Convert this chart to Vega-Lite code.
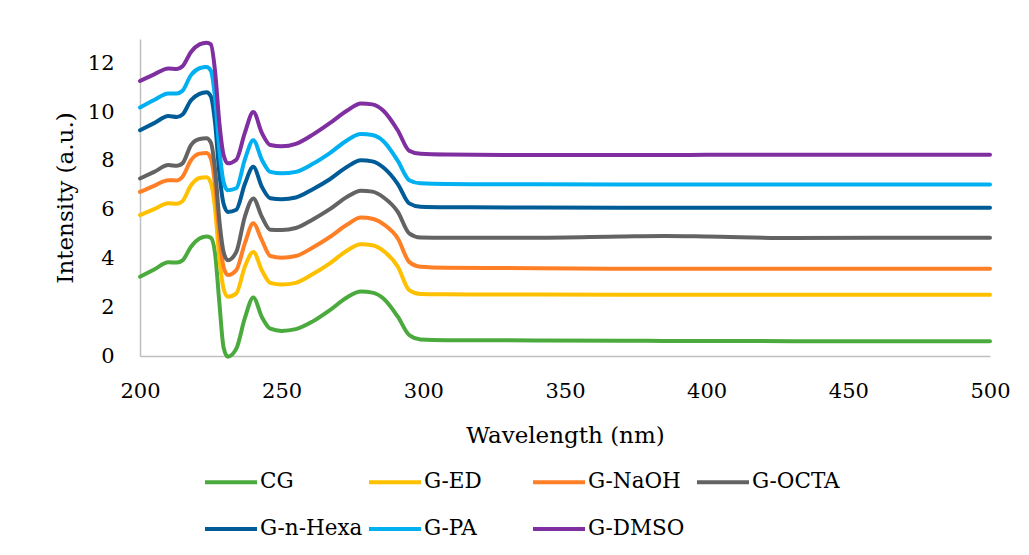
{
  "$schema": "https://vega.github.io/schema/vega-lite/v6.json",
  "width": 850,
  "height": 317,
  "autosize": "none",
  "padding": {"left": 140, "top": 39, "right": 39, "bottom": 199},
  "background": "white",
  "config": {"view": {"stroke": null}, "font": "DejaVu Serif"},
  "data": {"values": [
    {"sample": "CG", "wavelength": 200, "intensity": 3.25},
    {"sample": "CG", "wavelength": 205, "intensity": 3.55},
    {"sample": "CG", "wavelength": 210, "intensity": 3.84},
    {"sample": "CG", "wavelength": 213, "intensity": 3.83},
    {"sample": "CG", "wavelength": 215, "intensity": 3.92},
    {"sample": "CG", "wavelength": 218, "intensity": 4.48},
    {"sample": "CG", "wavelength": 221, "intensity": 4.82},
    {"sample": "CG", "wavelength": 223.5, "intensity": 4.9},
    {"sample": "CG", "wavelength": 225, "intensity": 4.85},
    {"sample": "CG", "wavelength": 226.5, "intensity": 4.2},
    {"sample": "CG", "wavelength": 228, "intensity": 2.2},
    {"sample": "CG", "wavelength": 229.5, "intensity": 0.35},
    {"sample": "CG", "wavelength": 231, "intensity": -0.03},
    {"sample": "CG", "wavelength": 234, "intensity": 0.3},
    {"sample": "CG", "wavelength": 237, "intensity": 1.55},
    {"sample": "CG", "wavelength": 240, "intensity": 2.4},
    {"sample": "CG", "wavelength": 243, "intensity": 1.6},
    {"sample": "CG", "wavelength": 246, "intensity": 1.12},
    {"sample": "CG", "wavelength": 250, "intensity": 1.03},
    {"sample": "CG", "wavelength": 255, "intensity": 1.1},
    {"sample": "CG", "wavelength": 261, "intensity": 1.42},
    {"sample": "CG", "wavelength": 267, "intensity": 1.88},
    {"sample": "CG", "wavelength": 273, "intensity": 2.4},
    {"sample": "CG", "wavelength": 278, "intensity": 2.64},
    {"sample": "CG", "wavelength": 282, "intensity": 2.6},
    {"sample": "CG", "wavelength": 286, "intensity": 2.35},
    {"sample": "CG", "wavelength": 291, "intensity": 1.61},
    {"sample": "CG", "wavelength": 295, "intensity": 0.86},
    {"sample": "CG", "wavelength": 299, "intensity": 0.68},
    {"sample": "CG", "wavelength": 308, "intensity": 0.65},
    {"sample": "CG", "wavelength": 340, "intensity": 0.64},
    {"sample": "CG", "wavelength": 370, "intensity": 0.63},
    {"sample": "CG", "wavelength": 385, "intensity": 0.62},
    {"sample": "CG", "wavelength": 400, "intensity": 0.62},
    {"sample": "CG", "wavelength": 430, "intensity": 0.61},
    {"sample": "CG", "wavelength": 460, "intensity": 0.6},
    {"sample": "CG", "wavelength": 500, "intensity": 0.6},

    {"sample": "G-ED", "wavelength": 200, "intensity": 5.78},
    {"sample": "G-ED", "wavelength": 205, "intensity": 6.02},
    {"sample": "G-ED", "wavelength": 210, "intensity": 6.26},
    {"sample": "G-ED", "wavelength": 213, "intensity": 6.24},
    {"sample": "G-ED", "wavelength": 215, "intensity": 6.35},
    {"sample": "G-ED", "wavelength": 218, "intensity": 7.0},
    {"sample": "G-ED", "wavelength": 221, "intensity": 7.3},
    {"sample": "G-ED", "wavelength": 223.5, "intensity": 7.33},
    {"sample": "G-ED", "wavelength": 225, "intensity": 7.1},
    {"sample": "G-ED", "wavelength": 226.5, "intensity": 6.03},
    {"sample": "G-ED", "wavelength": 228, "intensity": 4.02},
    {"sample": "G-ED", "wavelength": 229.5, "intensity": 2.76},
    {"sample": "G-ED", "wavelength": 231, "intensity": 2.43},
    {"sample": "G-ED", "wavelength": 234, "intensity": 2.57},
    {"sample": "G-ED", "wavelength": 237, "intensity": 3.66},
    {"sample": "G-ED", "wavelength": 240, "intensity": 4.27},
    {"sample": "G-ED", "wavelength": 243, "intensity": 3.52},
    {"sample": "G-ED", "wavelength": 246, "intensity": 3.0},
    {"sample": "G-ED", "wavelength": 250, "intensity": 2.93},
    {"sample": "G-ED", "wavelength": 255, "intensity": 3.0},
    {"sample": "G-ED", "wavelength": 261, "intensity": 3.36},
    {"sample": "G-ED", "wavelength": 267, "intensity": 3.8},
    {"sample": "G-ED", "wavelength": 273, "intensity": 4.32},
    {"sample": "G-ED", "wavelength": 278, "intensity": 4.58},
    {"sample": "G-ED", "wavelength": 282, "intensity": 4.54},
    {"sample": "G-ED", "wavelength": 286, "intensity": 4.3},
    {"sample": "G-ED", "wavelength": 291, "intensity": 3.66},
    {"sample": "G-ED", "wavelength": 295, "intensity": 2.7},
    {"sample": "G-ED", "wavelength": 299, "intensity": 2.54},
    {"sample": "G-ED", "wavelength": 308, "intensity": 2.53},
    {"sample": "G-ED", "wavelength": 340, "intensity": 2.52},
    {"sample": "G-ED", "wavelength": 370, "intensity": 2.51},
    {"sample": "G-ED", "wavelength": 385, "intensity": 2.51},
    {"sample": "G-ED", "wavelength": 400, "intensity": 2.51},
    {"sample": "G-ED", "wavelength": 430, "intensity": 2.51},
    {"sample": "G-ED", "wavelength": 460, "intensity": 2.51},
    {"sample": "G-ED", "wavelength": 500, "intensity": 2.51},

    {"sample": "G-NaOH", "wavelength": 200, "intensity": 6.73},
    {"sample": "G-NaOH", "wavelength": 205, "intensity": 6.98},
    {"sample": "G-NaOH", "wavelength": 210, "intensity": 7.21},
    {"sample": "G-NaOH", "wavelength": 213, "intensity": 7.2},
    {"sample": "G-NaOH", "wavelength": 215, "intensity": 7.35},
    {"sample": "G-NaOH", "wavelength": 218, "intensity": 8.03},
    {"sample": "G-NaOH", "wavelength": 221, "intensity": 8.3},
    {"sample": "G-NaOH", "wavelength": 223.5, "intensity": 8.33},
    {"sample": "G-NaOH", "wavelength": 225, "intensity": 8.1},
    {"sample": "G-NaOH", "wavelength": 226.5, "intensity": 7.0},
    {"sample": "G-NaOH", "wavelength": 228, "intensity": 4.95},
    {"sample": "G-NaOH", "wavelength": 229.5, "intensity": 3.65},
    {"sample": "G-NaOH", "wavelength": 231, "intensity": 3.32},
    {"sample": "G-NaOH", "wavelength": 234, "intensity": 3.52},
    {"sample": "G-NaOH", "wavelength": 237, "intensity": 4.62},
    {"sample": "G-NaOH", "wavelength": 240, "intensity": 5.44},
    {"sample": "G-NaOH", "wavelength": 243, "intensity": 4.75},
    {"sample": "G-NaOH", "wavelength": 246, "intensity": 4.1},
    {"sample": "G-NaOH", "wavelength": 250, "intensity": 4.03},
    {"sample": "G-NaOH", "wavelength": 255, "intensity": 4.1},
    {"sample": "G-NaOH", "wavelength": 261, "intensity": 4.45},
    {"sample": "G-NaOH", "wavelength": 267, "intensity": 4.88},
    {"sample": "G-NaOH", "wavelength": 273, "intensity": 5.38},
    {"sample": "G-NaOH", "wavelength": 278, "intensity": 5.68},
    {"sample": "G-NaOH", "wavelength": 282, "intensity": 5.63},
    {"sample": "G-NaOH", "wavelength": 286, "intensity": 5.4},
    {"sample": "G-NaOH", "wavelength": 291, "intensity": 4.82},
    {"sample": "G-NaOH", "wavelength": 295, "intensity": 3.86},
    {"sample": "G-NaOH", "wavelength": 299, "intensity": 3.66},
    {"sample": "G-NaOH", "wavelength": 308, "intensity": 3.62},
    {"sample": "G-NaOH", "wavelength": 340, "intensity": 3.6},
    {"sample": "G-NaOH", "wavelength": 370, "intensity": 3.58},
    {"sample": "G-NaOH", "wavelength": 385, "intensity": 3.58},
    {"sample": "G-NaOH", "wavelength": 400, "intensity": 3.58},
    {"sample": "G-NaOH", "wavelength": 430, "intensity": 3.58},
    {"sample": "G-NaOH", "wavelength": 460, "intensity": 3.58},
    {"sample": "G-NaOH", "wavelength": 500, "intensity": 3.58},

    {"sample": "G-OCTA", "wavelength": 200, "intensity": 7.28},
    {"sample": "G-OCTA", "wavelength": 205, "intensity": 7.55},
    {"sample": "G-OCTA", "wavelength": 210, "intensity": 7.83},
    {"sample": "G-OCTA", "wavelength": 213, "intensity": 7.8},
    {"sample": "G-OCTA", "wavelength": 215, "intensity": 7.9},
    {"sample": "G-OCTA", "wavelength": 218, "intensity": 8.65},
    {"sample": "G-OCTA", "wavelength": 221, "intensity": 8.9},
    {"sample": "G-OCTA", "wavelength": 223.5, "intensity": 8.93},
    {"sample": "G-OCTA", "wavelength": 225, "intensity": 8.75},
    {"sample": "G-OCTA", "wavelength": 226.5, "intensity": 7.64},
    {"sample": "G-OCTA", "wavelength": 228, "intensity": 5.57},
    {"sample": "G-OCTA", "wavelength": 229.5, "intensity": 4.27},
    {"sample": "G-OCTA", "wavelength": 231, "intensity": 3.93},
    {"sample": "G-OCTA", "wavelength": 234, "intensity": 4.27},
    {"sample": "G-OCTA", "wavelength": 237, "intensity": 5.71},
    {"sample": "G-OCTA", "wavelength": 240, "intensity": 6.46},
    {"sample": "G-OCTA", "wavelength": 243, "intensity": 5.71},
    {"sample": "G-OCTA", "wavelength": 246, "intensity": 5.18},
    {"sample": "G-OCTA", "wavelength": 250, "intensity": 5.17},
    {"sample": "G-OCTA", "wavelength": 255, "intensity": 5.25},
    {"sample": "G-OCTA", "wavelength": 261, "intensity": 5.6},
    {"sample": "G-OCTA", "wavelength": 267, "intensity": 6.02},
    {"sample": "G-OCTA", "wavelength": 273, "intensity": 6.52},
    {"sample": "G-OCTA", "wavelength": 278, "intensity": 6.78},
    {"sample": "G-OCTA", "wavelength": 282, "intensity": 6.74},
    {"sample": "G-OCTA", "wavelength": 286, "intensity": 6.5},
    {"sample": "G-OCTA", "wavelength": 291, "intensity": 5.91},
    {"sample": "G-OCTA", "wavelength": 295, "intensity": 5.03},
    {"sample": "G-OCTA", "wavelength": 299, "intensity": 4.86},
    {"sample": "G-OCTA", "wavelength": 308, "intensity": 4.85},
    {"sample": "G-OCTA", "wavelength": 340, "intensity": 4.85},
    {"sample": "G-OCTA", "wavelength": 370, "intensity": 4.9},
    {"sample": "G-OCTA", "wavelength": 385, "intensity": 4.92},
    {"sample": "G-OCTA", "wavelength": 400, "intensity": 4.9},
    {"sample": "G-OCTA", "wavelength": 430, "intensity": 4.84},
    {"sample": "G-OCTA", "wavelength": 460, "intensity": 4.85},
    {"sample": "G-OCTA", "wavelength": 500, "intensity": 4.85},

    {"sample": "G-n-Hexa", "wavelength": 200, "intensity": 9.26},
    {"sample": "G-n-Hexa", "wavelength": 205, "intensity": 9.55},
    {"sample": "G-n-Hexa", "wavelength": 210, "intensity": 9.84},
    {"sample": "G-n-Hexa", "wavelength": 213, "intensity": 9.8},
    {"sample": "G-n-Hexa", "wavelength": 215, "intensity": 9.9},
    {"sample": "G-n-Hexa", "wavelength": 218, "intensity": 10.49},
    {"sample": "G-n-Hexa", "wavelength": 221, "intensity": 10.75},
    {"sample": "G-n-Hexa", "wavelength": 223.5, "intensity": 10.82},
    {"sample": "G-n-Hexa", "wavelength": 225, "intensity": 10.65},
    {"sample": "G-n-Hexa", "wavelength": 226.5, "intensity": 9.56},
    {"sample": "G-n-Hexa", "wavelength": 228, "intensity": 7.52},
    {"sample": "G-n-Hexa", "wavelength": 229.5, "intensity": 6.24},
    {"sample": "G-n-Hexa", "wavelength": 231, "intensity": 5.91},
    {"sample": "G-n-Hexa", "wavelength": 234, "intensity": 6.0},
    {"sample": "G-n-Hexa", "wavelength": 237, "intensity": 7.05},
    {"sample": "G-n-Hexa", "wavelength": 240, "intensity": 7.76},
    {"sample": "G-n-Hexa", "wavelength": 243, "intensity": 6.94},
    {"sample": "G-n-Hexa", "wavelength": 246, "intensity": 6.47},
    {"sample": "G-n-Hexa", "wavelength": 250, "intensity": 6.43},
    {"sample": "G-n-Hexa", "wavelength": 255, "intensity": 6.5},
    {"sample": "G-n-Hexa", "wavelength": 261, "intensity": 6.84},
    {"sample": "G-n-Hexa", "wavelength": 267, "intensity": 7.25},
    {"sample": "G-n-Hexa", "wavelength": 273, "intensity": 7.75},
    {"sample": "G-n-Hexa", "wavelength": 278, "intensity": 8.03},
    {"sample": "G-n-Hexa", "wavelength": 282, "intensity": 7.98},
    {"sample": "G-n-Hexa", "wavelength": 286, "intensity": 7.72},
    {"sample": "G-n-Hexa", "wavelength": 291, "intensity": 7.05},
    {"sample": "G-n-Hexa", "wavelength": 295, "intensity": 6.26},
    {"sample": "G-n-Hexa", "wavelength": 299, "intensity": 6.12},
    {"sample": "G-n-Hexa", "wavelength": 308, "intensity": 6.1},
    {"sample": "G-n-Hexa", "wavelength": 340, "intensity": 6.09},
    {"sample": "G-n-Hexa", "wavelength": 370, "intensity": 6.08},
    {"sample": "G-n-Hexa", "wavelength": 385, "intensity": 6.08},
    {"sample": "G-n-Hexa", "wavelength": 400, "intensity": 6.08},
    {"sample": "G-n-Hexa", "wavelength": 430, "intensity": 6.08},
    {"sample": "G-n-Hexa", "wavelength": 460, "intensity": 6.08},
    {"sample": "G-n-Hexa", "wavelength": 500, "intensity": 6.08},

    {"sample": "G-PA", "wavelength": 200, "intensity": 10.19},
    {"sample": "G-PA", "wavelength": 205, "intensity": 10.5},
    {"sample": "G-PA", "wavelength": 210, "intensity": 10.77},
    {"sample": "G-PA", "wavelength": 213, "intensity": 10.77},
    {"sample": "G-PA", "wavelength": 215, "intensity": 10.88},
    {"sample": "G-PA", "wavelength": 218, "intensity": 11.52},
    {"sample": "G-PA", "wavelength": 221, "intensity": 11.8},
    {"sample": "G-PA", "wavelength": 223.5, "intensity": 11.85},
    {"sample": "G-PA", "wavelength": 225, "intensity": 11.7},
    {"sample": "G-PA", "wavelength": 226.5, "intensity": 10.57},
    {"sample": "G-PA", "wavelength": 228, "intensity": 8.47},
    {"sample": "G-PA", "wavelength": 229.5, "intensity": 7.14},
    {"sample": "G-PA", "wavelength": 231, "intensity": 6.8},
    {"sample": "G-PA", "wavelength": 234, "intensity": 6.88},
    {"sample": "G-PA", "wavelength": 237, "intensity": 8.05},
    {"sample": "G-PA", "wavelength": 240, "intensity": 8.85},
    {"sample": "G-PA", "wavelength": 243, "intensity": 8.05},
    {"sample": "G-PA", "wavelength": 246, "intensity": 7.55},
    {"sample": "G-PA", "wavelength": 250, "intensity": 7.49},
    {"sample": "G-PA", "wavelength": 255, "intensity": 7.55},
    {"sample": "G-PA", "wavelength": 261, "intensity": 7.88},
    {"sample": "G-PA", "wavelength": 267, "intensity": 8.32},
    {"sample": "G-PA", "wavelength": 273, "intensity": 8.84},
    {"sample": "G-PA", "wavelength": 278, "intensity": 9.1},
    {"sample": "G-PA", "wavelength": 282, "intensity": 9.06},
    {"sample": "G-PA", "wavelength": 286, "intensity": 8.8},
    {"sample": "G-PA", "wavelength": 291, "intensity": 8.0},
    {"sample": "G-PA", "wavelength": 295, "intensity": 7.21},
    {"sample": "G-PA", "wavelength": 299, "intensity": 7.08},
    {"sample": "G-PA", "wavelength": 308, "intensity": 7.05},
    {"sample": "G-PA", "wavelength": 340, "intensity": 7.04},
    {"sample": "G-PA", "wavelength": 370, "intensity": 7.03},
    {"sample": "G-PA", "wavelength": 385, "intensity": 7.03},
    {"sample": "G-PA", "wavelength": 400, "intensity": 7.03},
    {"sample": "G-PA", "wavelength": 430, "intensity": 7.03},
    {"sample": "G-PA", "wavelength": 460, "intensity": 7.03},
    {"sample": "G-PA", "wavelength": 500, "intensity": 7.03},

    {"sample": "G-DMSO", "wavelength": 200, "intensity": 11.28},
    {"sample": "G-DMSO", "wavelength": 205, "intensity": 11.55},
    {"sample": "G-DMSO", "wavelength": 210, "intensity": 11.79},
    {"sample": "G-DMSO", "wavelength": 213, "intensity": 11.77},
    {"sample": "G-DMSO", "wavelength": 215, "intensity": 11.88},
    {"sample": "G-DMSO", "wavelength": 218, "intensity": 12.47},
    {"sample": "G-DMSO", "wavelength": 221, "intensity": 12.78},
    {"sample": "G-DMSO", "wavelength": 223.5, "intensity": 12.85},
    {"sample": "G-DMSO", "wavelength": 225, "intensity": 12.78},
    {"sample": "G-DMSO", "wavelength": 226.5, "intensity": 11.67},
    {"sample": "G-DMSO", "wavelength": 228, "intensity": 9.57},
    {"sample": "G-DMSO", "wavelength": 229.5, "intensity": 8.24},
    {"sample": "G-DMSO", "wavelength": 231, "intensity": 7.9},
    {"sample": "G-DMSO", "wavelength": 234, "intensity": 8.05},
    {"sample": "G-DMSO", "wavelength": 237, "intensity": 9.15},
    {"sample": "G-DMSO", "wavelength": 240, "intensity": 10.01},
    {"sample": "G-DMSO", "wavelength": 243, "intensity": 9.15},
    {"sample": "G-DMSO", "wavelength": 246, "intensity": 8.65},
    {"sample": "G-DMSO", "wavelength": 250, "intensity": 8.6},
    {"sample": "G-DMSO", "wavelength": 255, "intensity": 8.7},
    {"sample": "G-DMSO", "wavelength": 261, "intensity": 9.08},
    {"sample": "G-DMSO", "wavelength": 267, "intensity": 9.55},
    {"sample": "G-DMSO", "wavelength": 273, "intensity": 10.06},
    {"sample": "G-DMSO", "wavelength": 278, "intensity": 10.36},
    {"sample": "G-DMSO", "wavelength": 282, "intensity": 10.32},
    {"sample": "G-DMSO", "wavelength": 286, "intensity": 10.05},
    {"sample": "G-DMSO", "wavelength": 291, "intensity": 9.25},
    {"sample": "G-DMSO", "wavelength": 295, "intensity": 8.42},
    {"sample": "G-DMSO", "wavelength": 299, "intensity": 8.29},
    {"sample": "G-DMSO", "wavelength": 308, "intensity": 8.26},
    {"sample": "G-DMSO", "wavelength": 340, "intensity": 8.24},
    {"sample": "G-DMSO", "wavelength": 370, "intensity": 8.24},
    {"sample": "G-DMSO", "wavelength": 385, "intensity": 8.24},
    {"sample": "G-DMSO", "wavelength": 400, "intensity": 8.25},
    {"sample": "G-DMSO", "wavelength": 430, "intensity": 8.25},
    {"sample": "G-DMSO", "wavelength": 460, "intensity": 8.25},
    {"sample": "G-DMSO", "wavelength": 500, "intensity": 8.25}
  ]},
  "mark": {"type": "line", "interpolate": "monotone", "strokeWidth": 4, "strokeCap": "round", "strokeJoin": "round"},
  "encoding": {
    "x": {
      "field": "wavelength",
      "type": "quantitative",
      "scale": {"domain": [200, 500], "nice": false, "zero": false},
      "axis": {
        "values": [200, 250, 300, 350, 400, 450, 500],
        "ticks": false,
        "grid": false,
        "domainColor": "#BFBFBF",
        "domainWidth": 1.5,
        "labelFont": "DejaVu Serif",
        "labelFontSize": 21,
        "labelColor": "#000000",
        "labelPadding": 24,
        "labelFlush": false,
        "title": "Wavelength (nm)",
        "titleFont": "DejaVu Serif",
        "titleFontSize": 23,
        "titleFontWeight": "normal",
        "titleColor": "#000000",
        "titlePadding": 23
      }
    },
    "y": {
      "field": "intensity",
      "type": "quantitative",
      "scale": {"domain": [0, 13], "nice": false, "zero": false},
      "axis": {
        "values": [0, 2, 4, 6, 8, 10, 12],
        "ticks": false,
        "grid": false,
        "domainColor": "#BFBFBF",
        "domainWidth": 1.5,
        "labelFont": "DejaVu Serif",
        "labelFontSize": 21,
        "labelColor": "#000000",
        "labelPadding": 26,
        "labelFlush": false,
        "title": "Intensity (a.u.)",
        "titleFont": "DejaVu Serif",
        "titleFontSize": 23,
        "titleFontWeight": "normal",
        "titleColor": "#000000",
        "titlePadding": 10
      }
    },
    "color": {
      "field": "sample",
      "type": "nominal",
      "sort": ["CG", "G-ED", "G-NaOH", "G-OCTA", "G-n-Hexa", "G-PA", "G-DMSO"],
      "scale": {
        "domain": ["CG", "G-ED", "G-NaOH", "G-OCTA", "G-n-Hexa", "G-PA", "G-DMSO"],
        "range": ["#4BAA3D", "#FFC000", "#FF7F27", "#636363", "#005C97", "#00B0F0", "#7F2FA0"]
      },
      "legend": {
        "orient": "none",
        "legendX": 63,
        "legendY": 415,
        "direction": "horizontal",
        "columns": 4,
        "gridAlign": "all",
        "title": null,
        "padding": 0,
        "symbolType": "stroke",
        "symbolSize": 2704,
        "symbolStrokeWidth": 4,
        "labelFont": "DejaVu Serif",
        "labelFontSize": 21.5,
        "labelColor": "#000000",
        "labelOffset": 1,
        "labelLimit": 300,
        "columnPadding": -2,
        "rowPadding": 8
      }
    }
  }
}
